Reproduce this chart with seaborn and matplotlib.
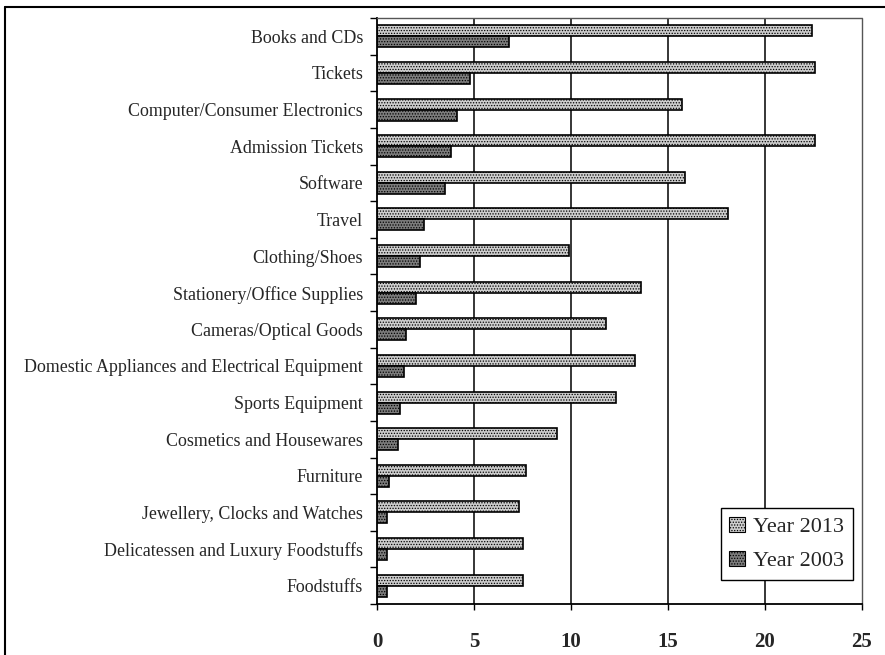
import matplotlib
matplotlib.use("Agg")
import matplotlib.pyplot as plt
import seaborn as sns
import pandas as pd
from matplotlib.lines import Line2D
from matplotlib.patches import Patch

categories = [
    "Books and CDs",
    "Tickets",
    "Computer/Consumer Electronics",
    "Admission Tickets",
    "Software",
    "Travel",
    "Clothing/Shoes",
    "Stationery/Office Supplies",
    "Cameras/Optical Goods",
    "Domestic Appliances and Electrical Equipment",
    "Sports Equipment",
    "Cosmetics and Housewares",
    "Furniture",
    "Jewellery, Clocks and Watches",
    "Delicatessen and Luxury Foodstuffs",
    "Foodstuffs",
]
year_2013 = [22.4, 22.6, 15.7, 22.6, 15.9, 18.1, 9.9, 13.6, 11.8, 13.3, 12.3, 9.3, 7.7, 7.3, 7.5, 7.5]
year_2003 = [6.8, 4.8, 4.1, 3.8, 3.5, 2.4, 2.2, 2.0, 1.5, 1.4, 1.2, 1.1, 0.6, 0.5, 0.5, 0.5]
series = ["Year 2013", "Year 2003"]
x_ticks = [0, 5, 10, 15, 20, 25]

df = pd.DataFrame({
    "Category": categories * 2,
    "Value": year_2013 + year_2003,
    "Series": [series[0]] * len(categories) + [series[1]] * len(categories),
})

sns.set_style("white")
plt.rcParams["font.family"] = ["Liberation Serif", "DejaVu Serif"]
plt.rcParams["hatch.linewidth"] = 0.6

colors = {"Year 2013": "#cdcdcd", "Year 2003": "#7c7c7c"}

fig = plt.figure(figsize=(8.85, 6.55), dpi=100)
ax = fig.add_axes([377 / 885, 1 - 604 / 655, (862 - 377) / 885, (604 - 18) / 655])

sns.barplot(
    data=df, y="Category", x="Value", hue="Series", order=categories,
    hue_order=series, palette=colors, orient="h", width=0.6, gap=0,
    edgecolor="black", linewidth=1.2, saturation=1, legend=False, ax=ax,
)

hatches = {"Year 2013": "......", "Year 2003": "......"}
for container, name in zip(ax.containers, series):
    for bar in container:
        bar.set_hatch(hatches[name])
        bar.set_edgecolor("black")

ax.set_xlim(0, 25)
ax.set_ylim(len(categories) - 0.5, -0.5)
ax.set_xticks(x_ticks)
ax.set_xticklabels([str(t) for t in x_ticks], fontweight="bold", fontsize=15)
ax.set_xlabel("")
ax.set_ylabel("")

# category labels centred, tick marks on the category boundaries
ax.set_yticks(range(len(categories)))
ax.set_yticklabels(categories, fontsize=12.9)
ax.tick_params(axis="y", length=0, pad=10)
ax.set_yticks([i - 0.5 for i in range(len(categories) + 1)], minor=True)
ax.tick_params(axis="y", which="minor", length=5, width=1, color="black", left=True)
ax.tick_params(axis="x", length=4, width=1, color="black", bottom=True, pad=16)

ax.grid(False)
for x in x_ticks[1:-1]:
    ax.axvline(x, color="black", linewidth=1.1, zorder=0)

ax.spines["left"].set_color("black")
ax.spines["left"].set_linewidth(1.3)
ax.spines["bottom"].set_color("black")
ax.spines["bottom"].set_linewidth(1.3)
for side in ("top", "right"):
    ax.spines[side].set_color("#555555")
    ax.spines[side].set_linewidth(1.0)
    ax.spines[side].set_linestyle((0, (1.5, 1)))

handles = [Patch(facecolor=colors[s], edgecolor="black", hatch=hatches[s], linewidth=0.8, label=s)
           for s in series]
leg = ax.legend(
    handles=handles, loc="lower right", bbox_to_anchor=((852.7 - 377) / 485, (604 - 580) / 586),
    fontsize=16, frameon=True, fancybox=False, edgecolor="black", framealpha=1,
    handlelength=0.7, handleheight=0.7, handletextpad=0.35, borderpad=0.4,
    labelspacing=0.6, borderaxespad=0,
)
leg.get_frame().set_linewidth(1.0)

# outer frame of the figure
fig.add_artist(Line2D([5 / 885, 5 / 885], [0, 1 - 7 / 655], transform=fig.transFigure,
                      color="black", linewidth=1.5))
fig.add_artist(Line2D([5 / 885, 1], [1 - 7 / 655, 1 - 7 / 655], transform=fig.transFigure,
                      color="black", linewidth=1.5))

fig.savefig("out.png", dpi=100)
